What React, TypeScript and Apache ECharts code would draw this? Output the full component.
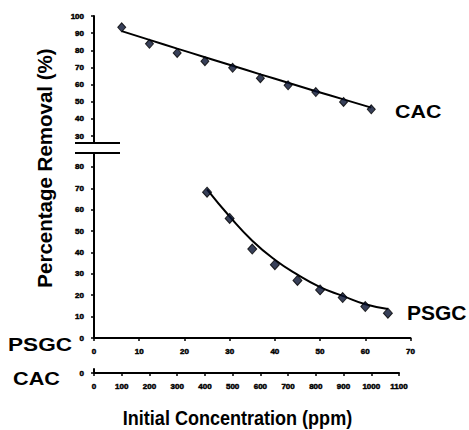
import React, { useEffect, useRef } from "react";
import * as echarts from "echarts";

const cacConcentration = [100, 200, 300, 400, 500, 600, 700, 800, 900, 1000];
const cacRemoval = [93.4, 83.8, 78.5, 73.7, 69.8, 63.8, 59.6, 55.7, 49.9, 45.6];
const cacTrend = [91.2, 86.1, 81.0, 76.0, 71.0, 66.0, 61.1, 56.2, 51.4, 46.6];

const psgcConcentration = [25, 30, 35, 40, 45, 50, 55, 60, 65];
const psgcRemoval = [68.2, 55.9, 41.6, 34.3, 26.9, 22.5, 18.9, 14.7, 11.6];
const psgcTrend = [69.5, 56.8, 45.5, 36.6, 29.6, 23.8, 19.7, 15.8, 13.6];

const topYTicks = [30, 40, 50, 60, 70, 80, 90, 100];
const bottomYTicks = [0, 10, 20, 30, 40, 50, 60, 70, 80];
const psgcXTicks = [0, 10, 20, 30, 40, 50, 60, 70];
const cacXTicks = [0, 100, 200, 300, 400, 500, 600, 700, 800, 900, 1000, 1100];

const FONT = "'Liberation Sans', Arial, sans-serif";

export default function App() {
  const ref = useRef<HTMLDivElement>(null);
  useEffect(() => {
    if (!ref.current) return;
    const chart = echarts.init(ref.current, null, { renderer: "svg" });
    const axisLine = { show: true, onZero: false, lineStyle: { color: "#000", width: 2 } };
    const tickStyle = { lineStyle: { color: "#000", width: 1.5 }, length: 3, inside: false };
    const labelStyle = {
      color: "#000", fontSize: 8, fontWeight: "bold" as const, fontFamily: FONT,
      textBorderColor: "#000", textBorderWidth: 0.5,
      formatter: (v: number) => String(v), showMinLabel: true, showMaxLabel: true, hideOverlap: false,
    };
    const pairs = (xs: number[], ys: number[]) => xs.map((x, i) => [x, ys[i]]);
    const nonZero = (vs: number[]) => vs.filter((v) => v !== 0);
    const txt = (text: string, x: number, y: number, size: number, sx: number, align = "center", rot = 0) => ({
      type: "text", x, y, scaleX: sx, rotation: rot,
      style: { text, fontSize: size, fontWeight: "bold", fontFamily: FONT, fill: "#000", textAlign: align, textVerticalAlign: "middle" },
    });
    const zero = (x: number, y: number, align: string) => ({
      type: "text", x, y,
      style: {
        text: "0", fontSize: 8, fontWeight: "bold", fontFamily: FONT, fill: "#000",
        stroke: "#000", lineWidth: 0.5, textAlign: align, textVerticalAlign: "middle",
      },
    });
    const bottomRect = { left: 94, right: 58.5, top: 153, height: 185 };
    const cacRect = { left: 94, right: 70, top: 369, height: 4 };

    chart.setOption({
      animation: false,
      backgroundColor: "#fff",
      grid: [
        { left: 94, right: 70, top: 16, height: 127 },
        { ...bottomRect },
        { ...bottomRect },
        { ...cacRect },
        { ...cacRect },
      ],
      xAxis: [
        { gridIndex: 0, type: "value", min: 0, max: 1100, show: false },
        { gridIndex: 1, type: "value", min: 0, max: 70, show: false },
        {
          gridIndex: 2, type: "value", min: 0, max: 70,
          axisLine, axisTick: { show: true, ...tickStyle, customValues: psgcXTicks },
          axisLabel: { ...labelStyle, margin: 9, customValues: psgcXTicks }, splitLine: { show: false },
        },
        {
          gridIndex: 3, type: "value", min: 0, max: 1100,
          axisLine, axisTick: { show: true, ...tickStyle, customValues: cacXTicks },
          axisLabel: { ...labelStyle, margin: 9, customValues: nonZero(cacXTicks) }, splitLine: { show: false },
        },
        { gridIndex: 4, type: "value", min: 0, max: 1100, show: false },
      ],
      yAxis: [
        {
          gridIndex: 0, type: "value", min: 26, max: 100,
          axisLine, axisTick: { show: true, ...tickStyle, customValues: topYTicks },
          axisLabel: { ...labelStyle, margin: 10, customValues: topYTicks }, splitLine: { show: false },
        },
        {
          gridIndex: 1, type: "value", min: 0, max: 86.5,
          axisLine, axisTick: { show: true, ...tickStyle, customValues: bottomYTicks },
          axisLabel: { ...labelStyle, margin: 10, customValues: nonZero(bottomYTicks) }, splitLine: { show: false },
        },
        { gridIndex: 2, type: "value", min: 0, max: 86.5, show: false },
        { gridIndex: 3, type: "value", min: 0, max: 1, show: false },
        {
          gridIndex: 4, type: "value", min: 0, max: 1,
          axisLine, axisTick: { show: true, ...tickStyle, customValues: [0] },
          axisLabel: { show: false }, splitLine: { show: false },
        },
      ],
      series: [
        {
          type: "line", xAxisIndex: 0, yAxisIndex: 0, data: pairs(cacConcentration, cacTrend),
          smooth: true, showSymbol: false, lineStyle: { color: "#000", width: 2 }, z: 2,
        },
        {
          type: "scatter", xAxisIndex: 0, yAxisIndex: 0, data: pairs(cacConcentration, cacRemoval),
          symbol: "diamond", symbolSize: [8, 9],
          itemStyle: { color: "#061030", borderColor: "#000", borderWidth: 1 }, z: 3,
        },
        {
          type: "line", xAxisIndex: 1, yAxisIndex: 1, data: pairs(psgcConcentration, psgcTrend),
          smooth: true, showSymbol: false, lineStyle: { color: "#000", width: 2 }, z: 2,
        },
        {
          type: "scatter", xAxisIndex: 1, yAxisIndex: 1, data: pairs(psgcConcentration, psgcRemoval),
          symbol: "diamond", symbolSize: [9, 10],
          itemStyle: { color: "#061030", borderColor: "#000", borderWidth: 1 }, z: 3,
        },
      ],
      graphic: [
        { type: "line", shape: { x1: 75, y1: 143, x2: 120, y2: 143 }, style: { stroke: "#000", lineWidth: 2 } },
        { type: "line", shape: { x1: 75, y1: 153, x2: 120, y2: 153 }, style: { stroke: "#000", lineWidth: 2 } },
        zero(84, 338, "right"),
        zero(84, 373, "right"),
        zero(94, 386.5, "center"),
        txt("CAC", 395, 112, 18.6, 1.15, "left"),
        txt("PSGC", 407, 312, 21, 1, "left"),
        txt("PSGC", 40, 344, 19, 1.19),
        txt("CAC", 36.5, 378, 19, 1.14),
        txt("Initial Concentration (ppm)", 237.5, 418, 20.5, 0.88),
        txt("Percentage Removal (%)", 44, 168, 20.5, 1, "center", Math.PI / 2),
      ],
    });
    return () => chart.dispose();
  }, []);
  return <div ref={ref} style={{ position: "fixed", left: 0, top: 0, width: 469, height: 430 }} />;
}
